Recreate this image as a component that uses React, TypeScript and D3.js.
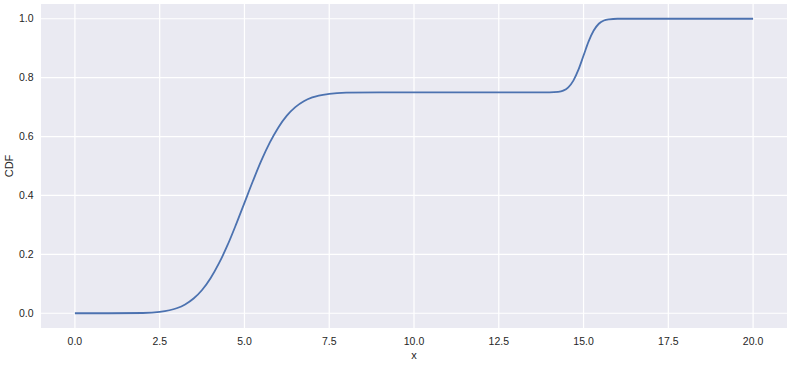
import React from "react";
import * as d3 from "d3";

const xValues = [0, 1, 2, 2.5, 3, 3.25, 3.5, 3.75, 4, 4.25, 4.5, 4.75, 5, 5.25, 5.5, 5.75, 6, 6.25, 6.5, 6.75, 7, 7.5, 8, 9, 10, 12, 14, 14.25, 14.4, 14.55, 14.7, 14.85, 15, 15.15, 15.3, 15.45, 15.6, 15.75, 16, 17, 18, 20];
const cdfValues = [0, 0, 0.001, 0.0047, 0.017, 0.03, 0.05, 0.079, 0.119, 0.17, 0.231, 0.301, 0.375, 0.449, 0.519, 0.58, 0.631, 0.671, 0.7, 0.72, 0.733, 0.745, 0.749, 0.75, 0.75, 0.75, 0.75, 0.7516, 0.7557, 0.767, 0.79, 0.827, 0.875, 0.923, 0.96, 0.983, 0.994, 0.998, 1, 1, 1, 1];
const xTicks = [0, 2.5, 5, 7.5, 10, 12.5, 15, 17.5, 20];
const yTicks = [0, 0.2, 0.4, 0.6, 0.8, 1.0];

export default function App() {
  const W = 802, H = 370;
  const left = 41, right = 787, top = 4, bottom = 328;
  const x = d3.scaleLinear().domain([-1, 21]).range([left, right]);
  const y = d3.scaleLinear().domain([-0.05, 1.05]).range([bottom, top]);
  const pts = xValues.map((v, i) => [v, cdfValues[i]] as [number, number]);
  const line = d3.line<[number, number]>().x(d => x(d[0])).y(d => y(d[1])).curve(d3.curveMonotoneX);
  const font = "'Liberation Sans', Arial, sans-serif";
  const textColor = "#262626";
  return (
    <svg width={W} height={H} style={{ position: "absolute", left: 0, top: 0 }} fontFamily={font}>
      <rect x={0} y={0} width={W} height={H} fill="#ffffff" />
      <rect x={left} y={top} width={right - left} height={bottom - top} fill="#EAEAF2" />
      {xTicks.map(t => (
        <line key={"gx" + t} x1={x(t)} x2={x(t)} y1={top} y2={bottom} stroke="#ffffff" strokeWidth={1.2} />
      ))}
      {yTicks.map(t => (
        <line key={"gy" + t} x1={left} x2={right} y1={y(t)} y2={y(t)} stroke="#ffffff" strokeWidth={1.2} />
      ))}
      <path d={line(pts) || ""} fill="none" stroke="#4C72B0" strokeWidth={1.8} strokeLinejoin="round" />
      {xTicks.map(t => (
        <text key={"tx" + t} x={x(t)} y={344.5} textAnchor="middle" fontSize={10.5} fill={textColor}>
          {t.toFixed(1)}
        </text>
      ))}
      {yTicks.map(t => (
        <text key={"ty" + t} x={33.5} y={y(t)} dy="0.35em" textAnchor="end" fontSize={10.5} fill={textColor}>
          {t.toFixed(1)}
        </text>
      ))}
      <text x={(left + right) / 2} y={359} textAnchor="middle" fontSize={11} fill={textColor}>x</text>
      <text transform={`translate(13,${(top + bottom) / 2}) rotate(-90)`} textAnchor="middle" fontSize={11} fill={textColor}>CDF</text>
    </svg>
  );
}
